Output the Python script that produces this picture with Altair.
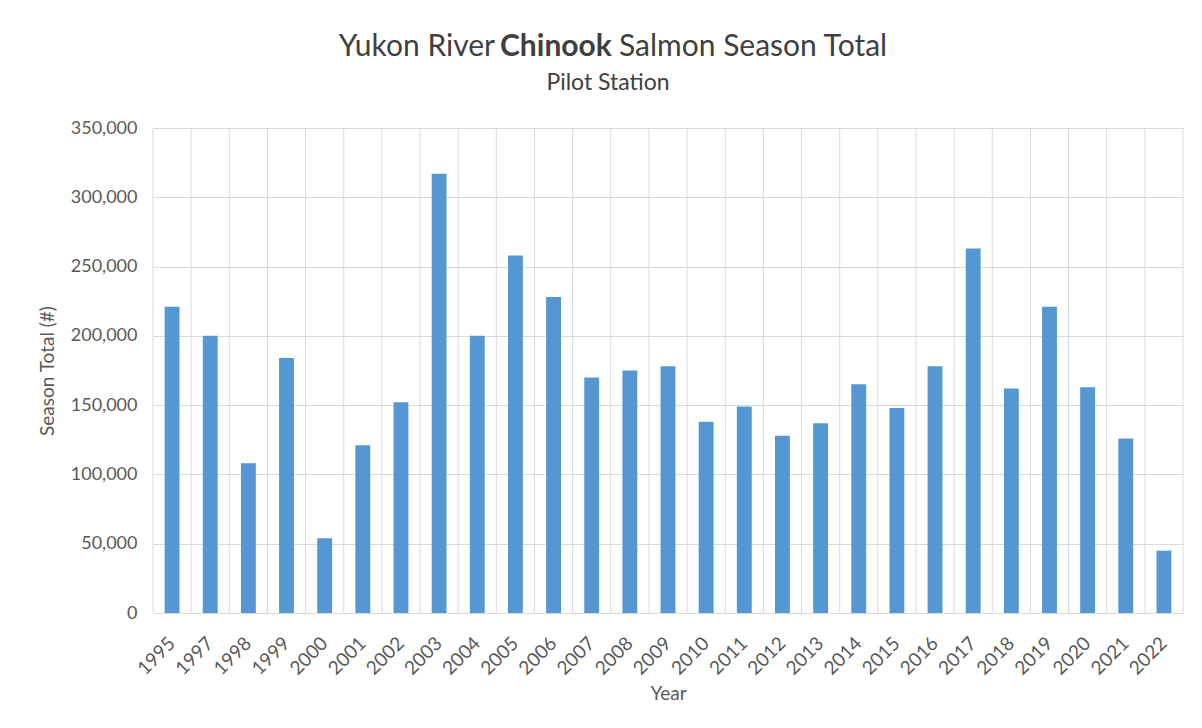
import altair as alt
import pandas as pd

years = ["1995", "1997", "1998", "1999", "2000", "2001", "2002", "2003", "2004",
         "2005", "2006", "2007", "2008", "2009", "2010", "2011", "2012", "2013",
         "2014", "2015", "2016", "2017", "2018", "2019", "2020", "2021", "2022"]
totals = [221000, 200000, 108000, 184000, 54000, 121000, 152000, 317000, 200000,
          258000, 228000, 170000, 175000, 178000, 138000, 149000, 128000, 137000,
          165000, 148000, 178000, 263000, 162000, 221000, 163000, 126000, 45000]
y_ticks = [0, 50000, 100000, 150000, 200000, 250000, 300000, 350000]

title_left = "Yukon River"
title_bold = "Chinook"
title_right = "Salmon Season Total"
subtitle = "Pilot Station"
x_title = "Year"
y_title = "Season Total (#)"

df = pd.DataFrame({"Year": years, "Total": totals})

FONT = "Lato"
TXT = "#595959"
TITLE_C = "#404040"
GRID = "#D9D9D9"
BAR = "#5597D2"
W, H = 1030, 485

x_scale = alt.Scale(domain=years, paddingInner=0, paddingOuter=0)

vgrid = alt.Chart(df).mark_rule(color=GRID, strokeWidth=1).encode(
    x=alt.X("Year:N", sort=years, scale=x_scale, bandPosition=0),
    y=alt.value(0),
    y2=alt.value(H),
)

edge = alt.Chart(pd.DataFrame({"a": [0]})).mark_rule(color=GRID, strokeWidth=1).encode(
    x=alt.value(W), y=alt.value(0), y2=alt.value(H)
)

bars = alt.Chart(df).mark_bar(color=BAR, width=alt.RelativeBandSize(0.39)).encode(
    x=alt.X(
        "Year:N",
        sort=years,
        scale=x_scale,
        axis=alt.Axis(
            title=x_title,
            labelAngle=-45,
            labelAlign="right",
            labelBaseline="middle",
            labelPadding=27,
            labelFont=FONT,
            labelFontSize=19,
            labelColor=TXT,
            ticks=False,
            grid=False,
            domainColor=GRID,
            domainWidth=1,
            titleFont=FONT,
            titleFontSize=19,
            titleFontWeight="normal",
            titleColor=TXT,
            titleY=80,
            titleBaseline="middle",
        ),
    ),
    y=alt.Y(
        "Total:Q",
        scale=alt.Scale(domain=[0, 350000], nice=False),
        axis=alt.Axis(
            title=y_title,
            values=y_ticks,
            format=",.0f",
            labelFont=FONT,
            labelFontSize=18,
            labelColor=TXT,
            labelPadding=16,
            ticks=False,
            domain=False,
            grid=True,
            gridColor=GRID,
            gridWidth=1,
            titleFont=FONT,
            titleFontSize=19,
            titleFontWeight="normal",
            titleColor=TXT,
            titleAngle=-90,
            titleX=-106,
            titleY=H / 2,
            titleAlign="center",
            titleBaseline="middle",
        ),
    ),
)


def txt(s, x, y, size, weight, align, color):
    return alt.Chart(pd.DataFrame({"t": [s]})).mark_text(
        font=FONT, fontSize=size, fontWeight=weight, color=color,
        align=align, baseline="middle"
    ).encode(text="t:N", x=alt.value(x), y=alt.value(y))


t1 = txt(title_left, 342, -81, 30, "normal", "right", TITLE_C)
t2 = txt(title_bold, 347, -81, 30, "bold", "left", TITLE_C)
t3 = txt(title_right, 466, -81, 30, "normal", "left", TITLE_C)
t4 = txt(subtitle, 455, -45, 23, "normal", "center", TITLE_C)

chart = alt.layer(vgrid, edge, bars, t1, t2, t3, t4).properties(
    width=W,
    height=H,
    autosize=alt.AutoSizeParams(type="none"),
    padding={"left": 145, "top": 120, "right": 5, "bottom": 100},
).configure_view(stroke=None)

chart.save("out.html", embed_options={"renderer": "svg", "actions": False})
